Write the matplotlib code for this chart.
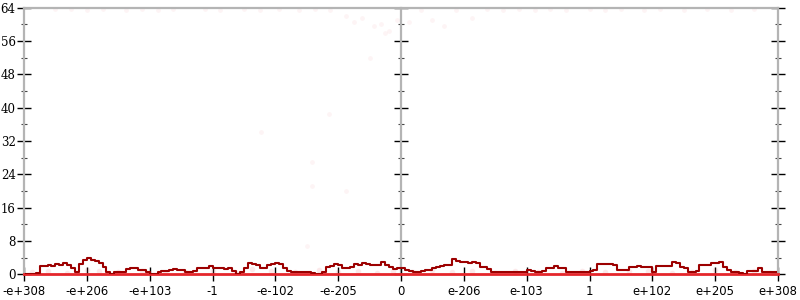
#!/usr/bin/env python3

import matplotlib
matplotlib.use("Agg")
import matplotlib.pyplot as plt
from matplotlib.ticker import MultipleLocator

###############################################################################
# Data
###############################################################################

# 192 bins across the ordered float range, 96 on each side of zero
bin_centers = [i + 0.5 for i in range(-96, 96)]

line_neg = [
    0.0, 0.0, 0.0, 0.4, 1.9, 2.0, 2.3, 2.1, 2.4, 2.3, 2.7, 2.2, 1.4, 0.6, 2.4, 3.4,
    4.0, 3.5, 3.2, 2.6, 1.8, 0.5, 0.1, 0.6, 0.6, 0.6, 1.3, 1.4, 1.4, 1.1, 1.0, 0.6,
    0.1, 0.0, 0.5, 0.8, 0.8, 1.0, 1.3, 1.1, 1.1, 0.6, 0.6, 0.9, 1.4, 1.6, 1.5, 1.9,
    1.6, 1.6, 1.5, 1.3, 1.4, 0.8, 0.1, 0.6, 1.4, 2.7, 2.5, 2.2, 1.4, 1.4, 2.2, 2.4,
    2.8, 2.4, 1.4, 0.7, 0.6, 0.6, 0.6, 0.6, 0.6, 0.4, 0.1, 0.0, 0.6, 1.8, 1.9, 2.4,
    2.3, 1.6, 1.6, 1.7, 2.4, 2.2, 2.7, 2.5, 2.3, 2.2, 2.3, 2.9, 2.2, 1.7, 1.3, 1.4,
]

line_pos = [
    1.4, 1.1, 0.9, 0.5, 0.5, 0.7, 1.0, 1.0, 1.5, 1.7, 1.9, 2.2, 2.3, 3.6, 3.2, 2.9,
    3.0, 2.7, 2.9, 2.6, 1.8, 1.8, 1.2, 0.5, 0.5, 0.5, 0.6, 0.5, 0.5, 0.6, 0.5, 0.5,
    1.0, 0.9, 0.6, 0.6, 0.7, 1.4, 1.6, 2.1, 1.6, 1.4, 0.5, 0.5, 0.5, 0.5, 0.5, 0.5,
    0.9, 1.0, 2.5, 2.5, 2.4, 2.5, 2.3, 1.0, 1.0, 1.1, 1.8, 1.8, 1.9, 1.8, 1.8, 1.7,
    0.6, 1.9, 2.0, 2.1, 2.1, 3.0, 2.6, 1.8, 1.5, 0.5, 0.5, 0.9, 2.2, 2.2, 2.3, 2.6,
    2.7, 2.9, 1.8, 1.0, 0.5, 0.5, 0.3, 0.1, 0.9, 0.9, 0.9, 1.4, 0.5, 0.5, 0.5, 0.5,
]

line_vals = line_neg + line_pos

baseline = 0.0

# faint sample points
faint_mid_x = [-18.3, -35.7, -22.7, -22.7, -14.0, -24.0, -8.0, -4.0]
faint_mid_y = [38.4, 34.1, 26.9, 21.2, 20.0, 6.8, 52.0, 58.0]

faint_top_x = [-88, -84, -80, -76, -70, -66, -62, -58, -50, -46, -40, -36, -31,
               -26, -22, -18, -14, -12, -10, -7, -5, -3, -1, 2, 5, 8, 11, 14,
               18, 22, 26, 30, 34, 38, 42, 48, 52, 56, 62, 66, 72, 78, 84, 90]
faint_top_y = [63.6, 63.6, 63.5, 63.6, 63.5, 63.6, 63.5, 63.6, 63.6, 63.5, 63.6,
               63.5, 63.6, 63.5, 63.6, 63.5, 62.0, 60.5, 61.5, 59.5, 60.0, 58.5,
               61.0, 60.5, 63.5, 61.0, 59.5, 63.5, 61.5, 63.6, 63.5, 63.6, 63.5,
               63.6, 63.5, 63.6, 63.5, 63.6, 63.5, 63.6, 63.5, 63.6, 63.5, 63.6]

faint_low_x = [-94, -90, -85, -80, -77, -72, -66, -60, -55, -48, -42, -38, -33,
               -27, -21, -16, -11, -6, -2, 3, 8, 13, 18, 24, 29, 35, 41, 46, 52,
               58, 63, 69, 74, 80, 85, 90, 94]
faint_low_y = [0.6, 0.9, 0.4, 1.1, 0.7, 0.5, 0.8, 0.3, 0.6, 0.9, 0.4, 1.2, 0.7,
               0.5, 1.0, 0.6, 0.8, 0.4, 0.9, 0.6, 1.1, 0.5, 0.7, 0.4, 0.9, 0.6,
               0.3, 0.8, 0.5, 0.7, 0.9, 0.4, 0.6, 1.0, 0.5, 0.7, 0.4]

xtick_pos = list(range(-96, 97, 16))
xtick_labels = ["-e+308", "-e+206", "-e+103", "-1", "-e-102", "-e-205", "0",
                "e-206", "e-103", "1", "e+102", "e+205", "e+308"]

###############################################################################
# Plot
###############################################################################

grey = "#b4b4b4"

fig = plt.figure(figsize=(8, 3), dpi=100)
ax = fig.add_axes([0.03, 0.0857, 0.9425, 0.889])

ax.set_xlim(-96, 96)
ax.set_ylim(0, 64)

pink = (0.9, 0.3, 0.35)
ax.scatter(faint_low_x, faint_low_y, s=16, color=pink, alpha=0.12,
           linewidths=0, zorder=2)
ax.scatter(faint_top_x, faint_top_y, s=12, color=pink, alpha=0.06,
           linewidths=0, zorder=2)
ax.scatter(faint_mid_x, faint_mid_y, s=12, color=pink, alpha=0.06,
           linewidths=0, zorder=2)

ax.axhline(baseline, color="#e5262b", lw=2.0, zorder=3, clip_on=False)

ax.plot(bin_centers, line_vals, color="#9c0000", lw=1.5, zorder=4,
        drawstyle="steps-mid")

###############################################################################
# Axes styling
###############################################################################

for side in ["left", "right", "top"]:
    ax.spines[side].set_color(grey)
    ax.spines[side].set_linewidth(1.6)
ax.spines["bottom"].set_visible(False)

ax.yaxis.set_major_locator(MultipleLocator(8))
ax.yaxis.set_minor_locator(MultipleLocator(4))

ax.tick_params(axis="y", which="major", direction="inout", length=10,
               width=1, color="black", left=True, right=True,
               labelright=False, pad=1)
ax.tick_params(axis="y", which="minor", direction="inout", length=5,
               width=0.8, color="#444444", left=True, right=True)

for lab in ax.get_yticklabels():
    lab.set_family("DejaVu Serif")
    lab.set_fontsize(8.5)

mid = ax.secondary_yaxis(0.5)
mid.yaxis.set_major_locator(MultipleLocator(8))
mid.yaxis.set_minor_locator(MultipleLocator(4))
mid.tick_params(axis="y", which="major", direction="inout", length=10,
                width=1, color="black", labelleft=False, labelright=False)
mid.tick_params(axis="y", which="minor", direction="inout", length=5,
                width=0.8, color="#444444")
for s in mid.spines.values():
    s.set_color(grey)
    s.set_linewidth(1.6)

ax.set_xticks(xtick_pos)
ax.set_xticklabels(xtick_labels, fontsize=8.4)
ax.tick_params(axis="x", direction="inout", length=10, width=1,
               color="black", pad=3)

fig.savefig("out.png", dpi=100)
